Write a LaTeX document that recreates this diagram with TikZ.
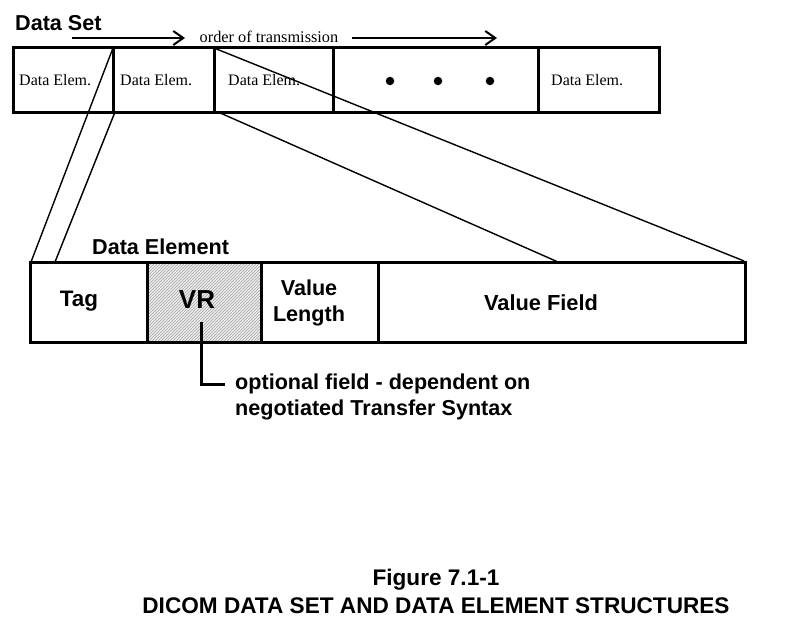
\documentclass[tikz,border=0pt]{standalone}
\usepackage{fontspec}
\setmainfont{Liberation Serif}
\setsansfont{Liberation Sans}
\usetikzlibrary{patterns,arrows.meta}
\begin{document}
\begin{tikzpicture}[x=1pt,y=-1pt,
  cell/.style={draw,line width=3pt,rectangle,inner sep=0pt,outer sep=0pt},
  elemtxt/.style={font=\fontsize{16}{18}\selectfont,inner sep=0pt,anchor=west},
  lbl/.style={font=\sffamily\bfseries\fontsize{21.6}{26}\selectfont,inner sep=0pt},
  caplbl/.style={font=\sffamily\bfseries\fontsize{22.6}{26}\selectfont,inner sep=0pt},
  thin/.style={line width=1.4pt},
  dirarrow/.style={line width=2pt,-{Straight Barb[length=10pt,width=14pt,line width=2pt]}},
  dot/.style={circle,fill=black,inner sep=0pt,minimum size=8.5pt}]
\useasboundingbox (0,0) rectangle (798,637);
% top row
\node[cell,minimum width=100pt,minimum height=65pt] (c1) at (63,79.5) {};
\node[cell,minimum width=101pt,minimum height=65pt] (c2) at (163.5,79.5) {};
\node[cell,minimum width=119pt,minimum height=65pt] (c3) at (273.5,79.5) {};
\node[cell,minimum width=205pt,minimum height=65pt] (c4) at (435.5,79.5) {};
\node[cell,minimum width=121pt,minimum height=65pt] (c5) at (598.5,79.5) {};
\node[elemtxt] (t1) at (19,80) {Data Elem.};
\node[elemtxt] (t2) at (120,80) {Data Elem.};
\node[elemtxt] (t3) at (228,80) {Data Elem.};
\node[elemtxt] (t5) at (551,80) {Data Elem.};
\node[dot] (d1) at (390,81) {};
\node[dot] (d2) at (438,81) {};
\node[dot] (d3) at (490,81) {};
% title and arrows
\node[lbl,anchor=west] (ds) at (15,23) {Data Set};
\coordinate (a1s) at (72,38);
\coordinate (a1e) at (185,38);
\coordinate (a2s) at (352,38);
\coordinate (a2e) at (497,38);
\draw[dirarrow] (a1s) -- (a1e);
\draw[dirarrow] (a2s) -- (a2e);
\node[font=\fontsize{16.3}{18}\selectfont,inner sep=0pt] (ot) at (269,37) {order of transmission};
% bottom row
\node[cell,minimum width=117pt,minimum height=80pt] (b1) at (88.5,302) {};
\node[cell,minimum width=114pt,minimum height=80pt,
  preaction={fill=gray!15},pattern=north east lines,pattern color=gray!70] (b2) at (204,302) {};
\node[cell,minimum width=117pt,minimum height=80pt] (b3) at (319.5,302) {};
\node[cell,minimum width=367pt,minimum height=80pt] (b4) at (561.5,302) {};
\node[lbl,anchor=west] (de) at (92,247) {Data Element};
\node[lbl,font=\sffamily\bfseries\fontsize{22.4}{26}\selectfont] (tag) at (79,301) {Tag};
\node[lbl,font=\sffamily\bfseries\fontsize{26}{30}\selectfont] (vr) at (197,300) {VR};
\node[lbl,align=center] (vl) at (309,303) {Value\\Length};
\node[lbl,font=\sffamily\bfseries\fontsize{21.8}{26}\selectfont] (vf) at (541,303) {Value Field};
% expansion lines
\coordinate (p1) at (113,48);
\coordinate (p2) at (115,112);
\coordinate (p3) at (214,48);
\coordinate (p4) at (218,112);
\coordinate (q1) at (31,262);
\coordinate (q2) at (55,262);
\coordinate (q3) at (744,261);
\coordinate (q4) at (558,262);
\draw[thin] (p1) -- (q1);
\draw[thin] (p2) -- (q2);
\draw[thin] (p3) -- (q3);
\draw[thin] (p4) -- (q4);
% optional note
\node[lbl,anchor=west] (opt1) at (235,384) {optional field - dependent on};
\node[lbl,anchor=west] (opt2) at (235,410) {negotiated Transfer Syntax};
\coordinate (vrs) at (201,322);
\draw[line width=3pt] (vrs) |- ([xshift=-10pt]opt1.west);
% caption
\node[caplbl] (cap1) at (436,580) {Figure 7.1-1};
\node[caplbl] (cap2) at (436,606) {DICOM DATA SET AND DATA ELEMENT STRUCTURES};
\end{tikzpicture}
\end{document}
